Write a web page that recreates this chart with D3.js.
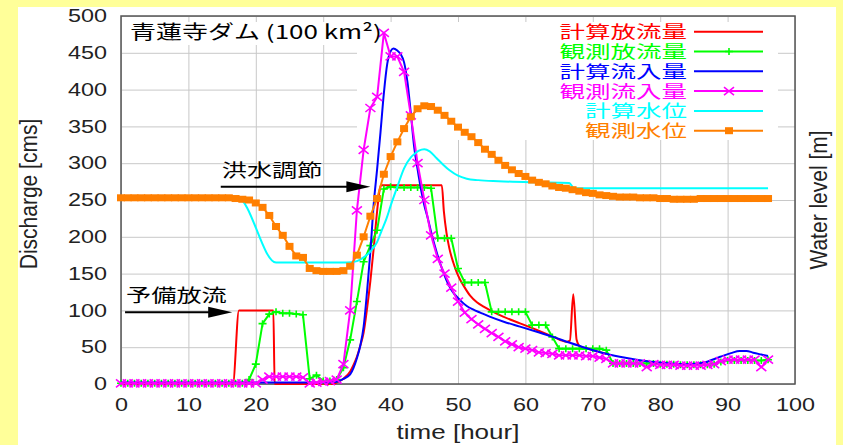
<!DOCTYPE html>
<html>
<head>
<meta charset="utf-8">
<script src="https://cdn.jsdelivr.net/npm/d3@7"></script>
<style>
  body { margin: 0; background: #ffff99; }
  svg { display: block; }
</style>
</head>
<body>
<svg id="chart" width="843" height="445"></svg>
<script>
// axis ticks
const xTicks = [0, 10, 20, 30, 40, 50, 60, 70, 80, 90, 100];
const yTicks = [0, 50, 100, 150, 200, 250, 300, 350, 400, 450, 500];

const seriesNames = ['計算放流量', '観測放流量', '計算流入量', '観測流入量', '計算水位', '観測水位'];
const seriesColors = ['#ff0000', '#00ff00', '#0000ff', '#ff00ff', '#00ffff', '#ff7f00'];

// computed series, [hour, value]
const calcOutflow = [[0,0],[16.6,0],[17.5,100],[22.6,100],[22.8,0],[31.5,0],[32,2],[33,7],[34,17],[34.5,26],
  [35,37],[35.5,52],[36,70],[36.5,102],[37,140],[37.5,185],[38,235],[38.4,265],[38.6,270],[47.6,270],
  [47.9,235],[48.3,205],[48.7,185],[49.3,165],[49.8,152],[50.3,142],[50.8,134],[51.8,120],[52.8,111],[53.8,105],
  [55,99],[56.7,91.5],[59.2,82.4],[61.7,73.4],[64.1,64.3],[66.1,57.5],[66.6,59],[67.1,122],[67.6,60],[68.1,51],
  [69.1,48.5],[70,46],[72,41]];

const calcInflow = [[0,2],[31,2],[32,3],[33,7],[34,13],[34.5,22],[35,35],[35.5,52],[36,78],[36.5,125],
  [37,180],[37.5,245],[38,292],[38.5,342],[39,395],[39.5,435],[40,452],[40.4,456],[41,453],[41.5,448],
  [42,437],[42.5,410],[43,368],[43.5,322],[44,292],[44.5,265],[45,243],[45.5,226],[46,207],[46.8,180],
  [47.5,160],[48.2,143],[49,128],[50.3,114],[51.3,106],[52.3,101],[53.3,97],[54.7,91.5],[57,84],[59.2,78],
  [61.7,71],[64.1,64],[66.6,56],[69.1,48.5],[71.5,42],[74,37],[76.5,33],[79,30],[81.5,28],[84,27],
  [86.4,29],[88.9,37],[90.5,42],[91.8,45],[92.8,45],[93.8,42.5],[95,40],[96,38]];

const calcLevel = [[0,253],[17.3,253],[23,165],[33.5,165],[35,167],[36,172],[37,180],[38,193],[38.7,209],[39.4,225],
  [40,242],[41,268],[42,293],[43,308],[43.6,313],[44.2,317],[45,319],[45.8,316],[46.8,307],[47.8,298],
  [48.8,290],[50,283],[51.3,279],[53,277],[56,275.5],[61,274],[66.5,273],[67.2,266],[96,266]];

// observed hourly series, index = hour (0..96)
const obsOutflow = [1,1,1,1,1,1,1,1,1,1, 1,1,1,1,1,1,1,1,1,6,
  27,82,95,98,96,96,95,94,7,12, 4,4,6,22,60,112,166,188,209,265,
  268,267,267,267,267,267,266,198,198,198, 157,138,138,138,138,98,98,98,98,98,
  98,80,80,80,64,48,48,48,48,48, 48,48,46,28,28,28,28,28,28,28,
  27,27,27,26,26,26,26,26,27,30, 32,32,32,32,32,32,33];

const obsInflow = [1,1,1,1,1,1,1,1,1,1, 1,1,1,1,1,1,1,1,1,1,
  1,6,10,10,10,10,10,9,1,2, 3,4,6,27,100,236,318,375,390,477,
  445,445,424,365,300,250,202,170,150,131, 112,97,88,81,75,69,64,58,54,50,
  48,46,43,42,41,39,39,39,39,38, 38,36,34,28,28,28,28,28,23,27,
  26,26,26,25,25,25,25,26,27,31, 33,33,33,33,33,23,33];

const obsLevel = [253,253,253,253,253,253,253,253,253,253, 253,253,253,253,253,253,253,252,251,250,
  246,240,229,214,202,187,174,172,157,154, 153,153,153,154,160,175,200,228,252,285,
  309,329,347,363,374,378,377,372,365,357, 349,342,336,328,319,312,304,297,291,286,
  282,277,274,272,269,267,266,264,262,260, 259,257,256,255,254,254,254,253,253,253,
  252,252,251,251,251,251,252,252,252,252, 252,252,252,252,252,252,252];

// annotations: label, arrow start, arrow end (hour, value)
const notes = [
  {text: '洪水調節', from: [14.8, 268], to: [37, 268]},
  {text: '予備放流', from: [0.6, 97.5], to: [16.5, 97.5]}
];

const jpFont = '"Noto Sans CJK JP", sans-serif';
const enFont = '"Liberation Sans", Arial, sans-serif';

const margin = {left: 121, right: 795, top: 16, bottom: 384};
const svg = d3.select('#chart');

const x = d3.scaleLinear().domain([0, 100]).range([margin.left, margin.right]);
const y = d3.scaleLinear().domain([0, 500]).range([margin.bottom, margin.top]);

function label(g, str, px, py, o) {
  return g.append('text')
    .attr('transform', `translate(${px},${py}) rotate(${o.rotate || 0}) scale(${o.sx || 1},${o.sy || 1})`)
    .attr('text-anchor', o.anchor || 'start')
    .attr('font-family', o.font || jpFont)
    .attr('font-size', o.size)
    .attr('fill', o.fill || '#000')
    .text(str);
}

// white panel
svg.append('rect').attr('x', 18).attr('y', 7).attr('width', 818).attr('height', 438).attr('fill', '#fff');

// grid + tick labels
let gx = svg.append('g').attr('transform', `translate(0,${margin.bottom})`)
  .call(d3.axisBottom(x).tickValues(xTicks).tickSize(-(margin.bottom - margin.top)).tickPadding(14.5));
let gy = svg.append('g').attr('transform', `translate(${margin.left},0)`)
  .call(d3.axisLeft(y).tickValues(yTicks).tickSize(-(margin.right - margin.left)).tickPadding(10.8));

[gx, gy].forEach(g => {
  g.select('.domain').remove();
  g.selectAll('line').attr('stroke', '#c8c8c8').attr('stroke-width', 1);
  g.selectAll('text')
    .attr('font-family', enFont).attr('font-size', 18).attr('fill', '#222')
    .attr('transform', 'scale(1.3,1)');
});

// opaque boxes behind title and key
svg.append('rect').attr('x', 122).attr('y', 22).attr('width', 235).attr('height', 23).attr('fill', '#fff');
svg.append('rect').attr('x', 357).attr('y', 22).attr('width', 421).attr('height', 118).attr('fill', '#fff');

// frame
svg.append('rect')
  .attr('x', margin.left).attr('y', margin.top)
  .attr('width', margin.right - margin.left).attr('height', margin.bottom - margin.top)
  .attr('fill', 'none').attr('stroke', '#555').attr('stroke-width', 1.5);

// axis titles
label(svg, 'time [hour]', 458, 439, {size: 20, sx: 1.3, anchor: 'middle', font: enFont, fill: '#222'});
label(svg, 'Discharge [cms]', 37, 194, {size: 21, rotate: -90, sy: 1.1, anchor: 'middle', font: enFont, fill: '#222'});
label(svg, 'Water level [m]', 827, 200, {size: 21, rotate: -90, sy: 1.1, anchor: 'middle', font: enFont, fill: '#222'});

// markers
const markers = {
  plus: g => g.append('path').attr('d', 'M-4,0H4M0,-3.5V3.5').attr('stroke-width', 1.6),
  cross: g => g.append('path').attr('d', 'M-5,-4L5,4M-5,4L5,-4').attr('stroke-width', 1.6),
  square: g => g.append('rect').attr('x', -4).attr('y', -3.5).attr('width', 8).attr('height', 7).attr('stroke', 'none')
};

const lineCalc = d3.line().x(d => x(d[0])).y(d => y(d[1])).curve(d3.curveMonotoneX);
const lineObs = d3.line().x(d => x(d[0])).y(d => y(d[1]));
const hourly = arr => arr.map((v, i) => [i, v]);

const series = [
  {data: calcOutflow, line: lineCalc},
  {data: hourly(obsOutflow), line: lineObs, marker: 'plus'},
  {data: calcInflow, line: lineCalc},
  {data: hourly(obsInflow), line: lineObs, marker: 'cross'},
  {data: calcLevel, line: lineCalc},
  {data: hourly(obsLevel), line: lineObs, marker: 'square'}
];

const plotG = svg.append('g');
series.forEach((s, i) => {
  const c = seriesColors[i];
  plotG.append('path').datum(s.data)
    .attr('d', s.line).attr('fill', 'none').attr('stroke', c).attr('stroke-width', 2)
    .attr('stroke-linejoin', 'round');
  if (s.marker) {
    const m = plotG.append('g').attr('stroke', c).attr('fill', c);
    s.data.forEach(d => {
      markers[s.marker](m.append('g').attr('transform', `translate(${x(d[0])},${y(d[1])})`));
    });
  }
});

// title
label(svg, '青蓮寺ダム (100 km²)', 130, 38.5, {size: 19, sx: 1.37});

// legend
const legend = svg.append('g');
series.forEach((s, i) => {
  const ry = 31.7 + i * 19.8;
  const c = seriesColors[i];
  label(legend, seriesNames[i], 687, ry + 6.5, {size: 17, sx: 1.5, anchor: 'end', fill: c});
  legend.append('line').attr('x1', 694).attr('x2', 763).attr('y1', ry).attr('y2', ry)
    .attr('stroke', c).attr('stroke-width', 2);
  if (s.marker) {
    const m = legend.append('g').attr('stroke', c).attr('fill', c).attr('transform', `translate(729,${ry})`);
    markers[s.marker](m);
  }
});

// annotation arrows
const noteG = svg.append('g');
notes.forEach(n => {
  const x0 = x(n.from[0]), x1 = x(n.to[0]), yy = y(n.from[1]);
  noteG.append('line').attr('x1', x0).attr('x2', x1 - 20).attr('y1', yy).attr('y2', yy)
    .attr('stroke', '#000').attr('stroke-width', 2);
  noteG.append('path')
    .attr('d', `M${x1},${yy}L${x1 - 24},${yy - 5.5}L${x1 - 24},${yy + 5.5}Z`)
    .attr('fill', '#000');
  label(noteG, n.text, x0 + 1, yy - 10, {size: 18, sx: 1.4});
});
</script>
</body>
</html>
